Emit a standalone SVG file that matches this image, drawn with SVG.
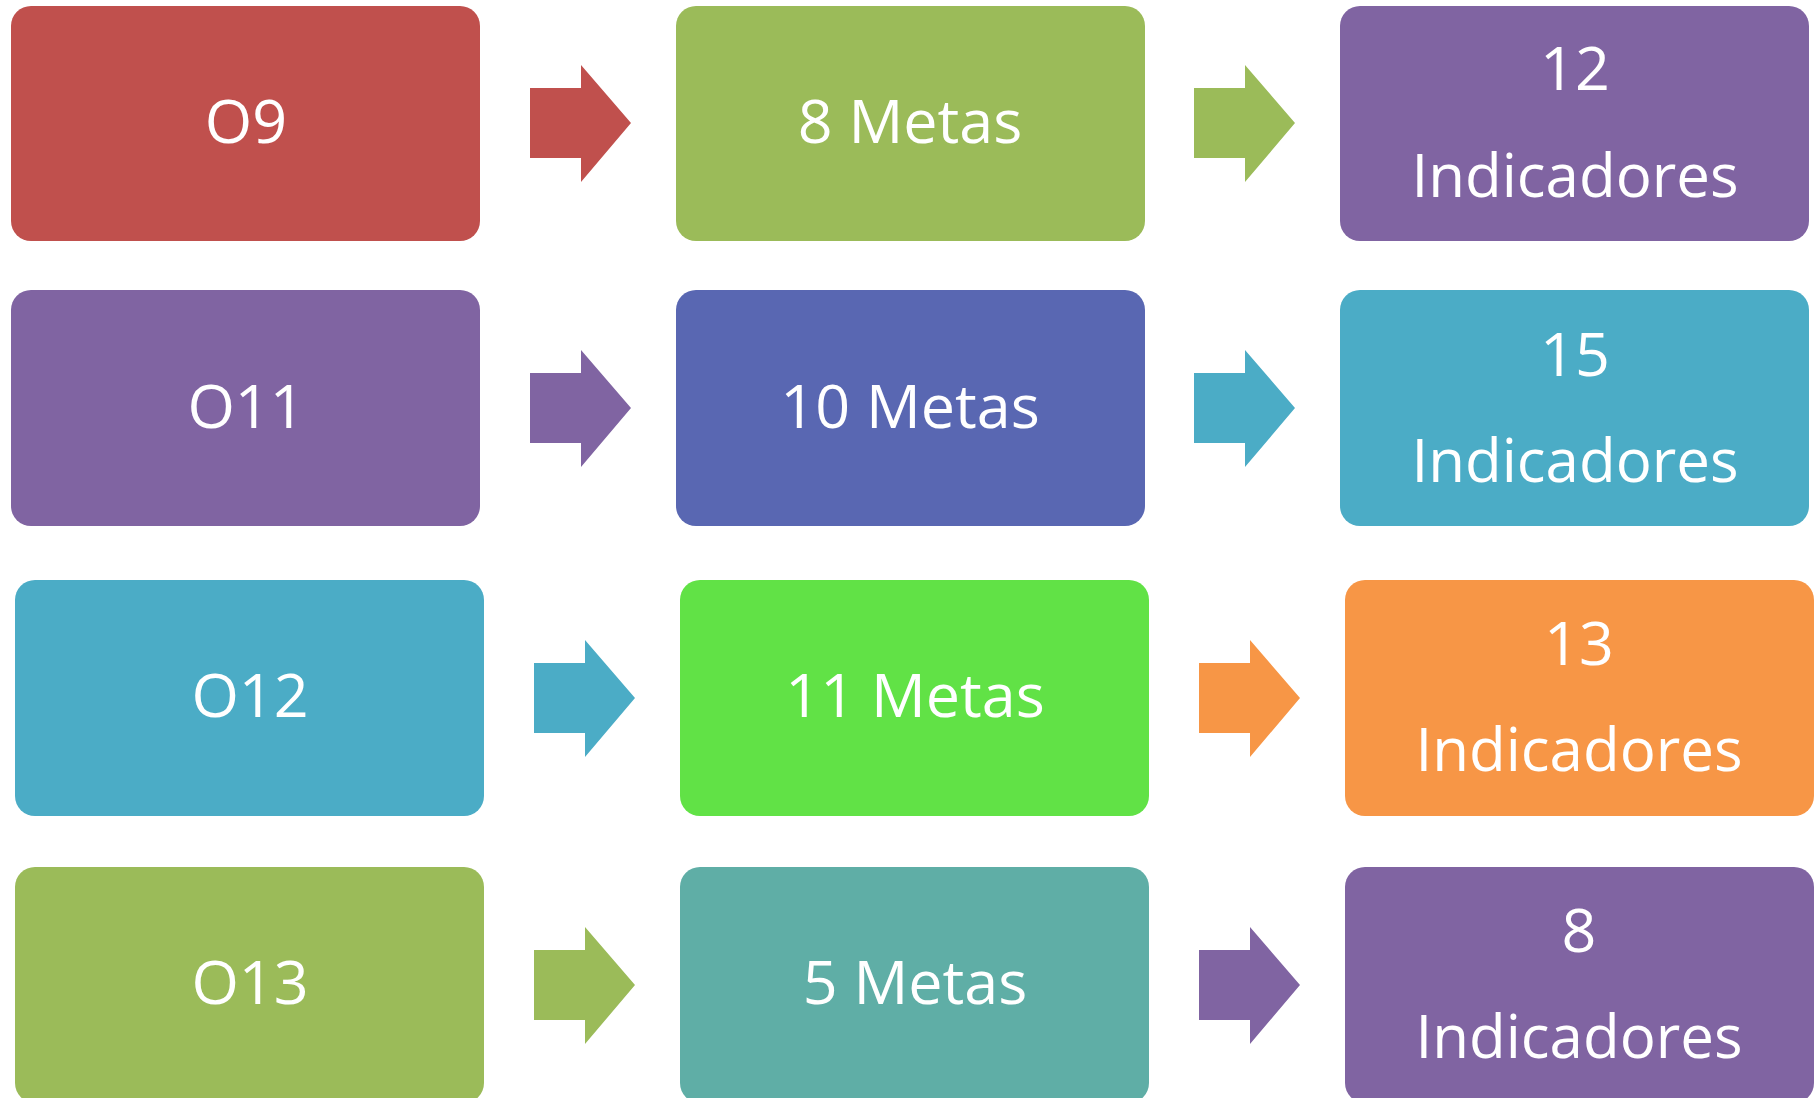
<svg xmlns="http://www.w3.org/2000/svg" width="1818" height="1098" viewBox="0 0 1818 1098">
<style>
text{font-family:"Open Sans","Noto Sans","Liberation Sans",sans-serif;fill:#fff;text-anchor:middle;font-size:61px}
text.ind{font-size:60px}
.red{fill:#C0504D}.grn{fill:#9BBB59}.pur{fill:#8064A2}.blu{fill:#5967B2}.tea{fill:#4BACC6}.lim{fill:#61E246}.ora{fill:#F79646}.sea{fill:#5FAEA6}
</style>
<defs>
<polygon id="arr" points="0,-35 51,-35 51,-58 101,0 51,59 51,35 0,35"/>
</defs>
<g id="connectors">
<use href="#arr" x="530" y="123" class="red"/>
<use href="#arr" x="1194" y="123" class="grn"/>
<use href="#arr" x="530" y="408" class="pur"/>
<use href="#arr" x="1194" y="408" class="tea"/>
<use href="#arr" x="534" y="698" class="tea"/>
<use href="#arr" x="1199" y="698" class="ora"/>
<use href="#arr" x="534" y="985" class="grn"/>
<use href="#arr" x="1199" y="985" class="pur"/>
</g>
<g id="o9"><rect x="11" y="6" width="469" height="235" rx="20" class="red"/><text x="246" y="143">O9</text></g>
<g id="m8"><rect x="676" y="6" width="469" height="235" rx="20" class="grn"/><text x="910" y="143">8 Metas</text></g>
<g id="i12"><rect x="1340" y="6" width="469" height="235" rx="20" class="pur"/><text x="1575" y="90">12</text><text class="ind" x="1575" y="197">Indicadores</text></g>
<g id="o11"><rect x="11" y="290" width="469" height="236" rx="20" class="pur"/><text x="246" y="428">O11</text></g>
<g id="m10"><rect x="676" y="290" width="469" height="236" rx="20" class="blu"/><text x="910" y="428">10 Metas</text></g>
<g id="i15"><rect x="1340" y="290" width="469" height="236" rx="20" class="tea"/><text x="1575" y="376">15</text><text class="ind" x="1575" y="482">Indicadores</text></g>
<g id="o12"><rect x="15" y="580" width="469" height="236" rx="20" class="tea"/><text x="250" y="717">O12</text></g>
<g id="m11"><rect x="680" y="580" width="469" height="236" rx="20" class="lim"/><text x="915" y="717">11 Metas</text></g>
<g id="i13"><rect x="1345" y="580" width="469" height="236" rx="20" class="ora"/><text x="1579" y="665">13</text><text class="ind" x="1579" y="771">Indicadores</text></g>
<g id="o13"><rect x="15" y="867" width="469" height="236" rx="20" class="grn"/><text x="250" y="1004">O13</text></g>
<g id="m5"><rect x="680" y="867" width="469" height="236" rx="20" class="sea"/><text x="915" y="1004">5 Metas</text></g>
<g id="i8"><rect x="1345" y="867" width="469" height="236" rx="20" class="pur"/><text x="1579" y="952">8</text><text class="ind" x="1579" y="1058">Indicadores</text></g>
</svg>
